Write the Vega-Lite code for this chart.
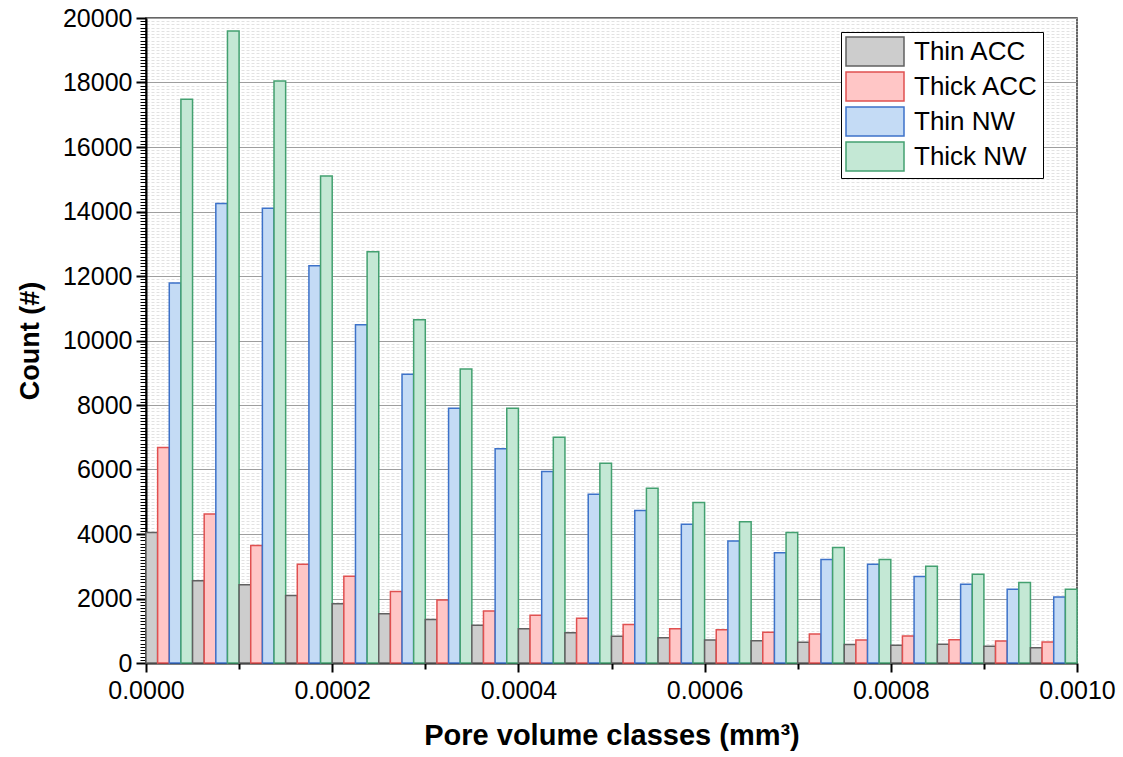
{
  "$schema": "https://vega.github.io/schema/vega-lite/v6.json",
  "width": 931,
  "height": 645,
  "autosize": {"type": "none"},
  "padding": {"left": 146, "top": 18, "right": 46, "bottom": 94},
  "background": "white",
  "config": {
    "view": {"stroke": "#333333", "strokeWidth": 1.5},
    "font": "Liberation Sans",
    "scale": {"bandPaddingInner": 0, "bandPaddingOuter": 0, "barBandPaddingInner": 0}
  },
  "data": {
    "values": [
      {"volume": 0.0, "series": "Thin ACC", "count": 4050},
      {"volume": 0.0, "series": "Thick ACC", "count": 6680},
      {"volume": 0.0, "series": "Thin NW", "count": 11780},
      {"volume": 0.0, "series": "Thick NW", "count": 17480},
      {"volume": 0.00005, "series": "Thin ACC", "count": 2550},
      {"volume": 0.00005, "series": "Thick ACC", "count": 4620},
      {"volume": 0.00005, "series": "Thin NW", "count": 14250},
      {"volume": 0.00005, "series": "Thick NW", "count": 19600},
      {"volume": 0.0001, "series": "Thin ACC", "count": 2430},
      {"volume": 0.0001, "series": "Thick ACC", "count": 3640},
      {"volume": 0.0001, "series": "Thin NW", "count": 14100},
      {"volume": 0.0001, "series": "Thick NW", "count": 18050},
      {"volume": 0.00015, "series": "Thin ACC", "count": 2090},
      {"volume": 0.00015, "series": "Thick ACC", "count": 3060},
      {"volume": 0.00015, "series": "Thin NW", "count": 12320},
      {"volume": 0.00015, "series": "Thick NW", "count": 15100},
      {"volume": 0.0002, "series": "Thin ACC", "count": 1840},
      {"volume": 0.0002, "series": "Thick ACC", "count": 2690},
      {"volume": 0.0002, "series": "Thin NW", "count": 10490},
      {"volume": 0.0002, "series": "Thick NW", "count": 12750},
      {"volume": 0.00025, "series": "Thin ACC", "count": 1530},
      {"volume": 0.00025, "series": "Thick ACC", "count": 2220},
      {"volume": 0.00025, "series": "Thin NW", "count": 8950},
      {"volume": 0.00025, "series": "Thick NW", "count": 10640},
      {"volume": 0.0003, "series": "Thin ACC", "count": 1350},
      {"volume": 0.0003, "series": "Thick ACC", "count": 1950},
      {"volume": 0.0003, "series": "Thin NW", "count": 7900},
      {"volume": 0.0003, "series": "Thick NW", "count": 9120},
      {"volume": 0.00035, "series": "Thin ACC", "count": 1170},
      {"volume": 0.00035, "series": "Thick ACC", "count": 1610},
      {"volume": 0.00035, "series": "Thin NW", "count": 6640},
      {"volume": 0.00035, "series": "Thick NW", "count": 7900},
      {"volume": 0.0004, "series": "Thin ACC", "count": 1060},
      {"volume": 0.0004, "series": "Thick ACC", "count": 1480},
      {"volume": 0.0004, "series": "Thin NW", "count": 5940},
      {"volume": 0.0004, "series": "Thick NW", "count": 7000},
      {"volume": 0.00045, "series": "Thin ACC", "count": 940},
      {"volume": 0.00045, "series": "Thick ACC", "count": 1390},
      {"volume": 0.00045, "series": "Thin NW", "count": 5230},
      {"volume": 0.00045, "series": "Thick NW", "count": 6190},
      {"volume": 0.0005, "series": "Thin ACC", "count": 830},
      {"volume": 0.0005, "series": "Thick ACC", "count": 1190},
      {"volume": 0.0005, "series": "Thin NW", "count": 4730},
      {"volume": 0.0005, "series": "Thick NW", "count": 5420},
      {"volume": 0.00055, "series": "Thin ACC", "count": 780},
      {"volume": 0.00055, "series": "Thick ACC", "count": 1060},
      {"volume": 0.00055, "series": "Thin NW", "count": 4300},
      {"volume": 0.00055, "series": "Thick NW", "count": 4980},
      {"volume": 0.0006, "series": "Thin ACC", "count": 710},
      {"volume": 0.0006, "series": "Thick ACC", "count": 1030},
      {"volume": 0.0006, "series": "Thin NW", "count": 3780},
      {"volume": 0.0006, "series": "Thick NW", "count": 4380},
      {"volume": 0.00065, "series": "Thin ACC", "count": 690},
      {"volume": 0.00065, "series": "Thick ACC", "count": 950},
      {"volume": 0.00065, "series": "Thin NW", "count": 3420},
      {"volume": 0.00065, "series": "Thick NW", "count": 4050},
      {"volume": 0.0007, "series": "Thin ACC", "count": 640},
      {"volume": 0.0007, "series": "Thick ACC", "count": 900},
      {"volume": 0.0007, "series": "Thin NW", "count": 3210},
      {"volume": 0.0007, "series": "Thick NW", "count": 3580},
      {"volume": 0.00075, "series": "Thin ACC", "count": 570},
      {"volume": 0.00075, "series": "Thick ACC", "count": 710},
      {"volume": 0.00075, "series": "Thin NW", "count": 3060},
      {"volume": 0.00075, "series": "Thick NW", "count": 3210},
      {"volume": 0.0008, "series": "Thin ACC", "count": 550},
      {"volume": 0.0008, "series": "Thick ACC", "count": 840},
      {"volume": 0.0008, "series": "Thin NW", "count": 2680},
      {"volume": 0.0008, "series": "Thick NW", "count": 3000},
      {"volume": 0.00085, "series": "Thin ACC", "count": 580},
      {"volume": 0.00085, "series": "Thick ACC", "count": 720},
      {"volume": 0.00085, "series": "Thin NW", "count": 2440},
      {"volume": 0.00085, "series": "Thick NW", "count": 2750},
      {"volume": 0.0009, "series": "Thin ACC", "count": 520},
      {"volume": 0.0009, "series": "Thick ACC", "count": 680},
      {"volume": 0.0009, "series": "Thin NW", "count": 2290},
      {"volume": 0.0009, "series": "Thick NW", "count": 2500},
      {"volume": 0.00095, "series": "Thin ACC", "count": 470},
      {"volume": 0.00095, "series": "Thick ACC", "count": 650},
      {"volume": 0.00095, "series": "Thin NW", "count": 2050},
      {"volume": 0.00095, "series": "Thick NW", "count": 2290}
    ]
  },
  "layer": [
    {
      "mark": {"type": "bar", "strokeWidth": 1.5},
      "encoding": {
        "x": {"field": "volume", "type": "ordinal", "axis": null, "scale": {"paddingInner": 0, "paddingOuter": 0}},
        "xOffset": {"field": "series", "type": "nominal", "sort": ["Thin ACC", "Thick ACC", "Thin NW", "Thick NW"], "scale": {"paddingInner": 0, "paddingOuter": 0}},
        "y": {
          "field": "count", "type": "quantitative",
          "scale": {"domain": [0, 20000], "nice": false},
          "axis": {
            "title": "Count (#)",
            "tickCount": 200,
            "format": "d",
            "labelExpr": "datum.value % 2000 === 0 ? datum.label : ''",
            "labelOverlap": false,
            "labelFlush": false,
            "labelFont": "Liberation Sans",
            "labelFontSize": 25,
            "labelColor": "black",
            "labelPadding": 4,
            "tickSize": {"condition": {"test": "datum.value % 2000 === 0", "value": 10}, "value": 6},
            "tickColor": "black",
            "tickWidth": {"condition": {"test": "datum.value % 2000 === 0", "value": 2}, "value": 1},
            "grid": true,
            "gridColor": {"condition": {"test": "datum.value % 2000 === 0", "value": "#9e9e9e"}, "value": "#e2e2e2"},
            "gridDash": {"condition": {"test": "datum.value % 2000 === 0", "value": []}, "value": [3, 2]},
            "gridWidth": 1,
            "domainColor": "black",
            "domainWidth": 2,
            "titleFont": "Liberation Sans",
            "titleFontSize": 27,
            "titleFontWeight": "bold",
            "titleColor": "black",
            "titlePadding": 18
          }
        },
        "fill": {
          "field": "series", "type": "nominal",
          "sort": ["Thin ACC", "Thick ACC", "Thin NW", "Thick NW"],
          "scale": {"domain": ["Thin ACC", "Thick ACC", "Thin NW", "Thick NW"], "range": ["#cdcdcd", "#ffc6c6", "#c4dbf5", "#c4e8d5"]},
          "legend": {
            "title": null,
            "orient": "none",
            "legendX": 695,
            "legendY": 14,
            "symbolType": "M-1,-1H3V1H-1Z",
            "symbolSize": 841,
            "symbolStrokeWidth": 1.5,
            "labelFont": "Liberation Sans",
            "labelFontSize": 26,
            "labelColor": "black",
            "labelOffset": 38,
            "rowPadding": 0,
            "padding": 4,
            "strokeColor": "black",
            "fillColor": "white",
            "labelLimit": 300
          }
        },
        "stroke": {
          "field": "series", "type": "nominal",
          "sort": ["Thin ACC", "Thick ACC", "Thin NW", "Thick NW"],
          "scale": {"domain": ["Thin ACC", "Thick ACC", "Thin NW", "Thick NW"], "range": ["#606060", "#e05050", "#3d72c9", "#43a070"]}
        }
      }
    },
    {
      "mark": {"type": "rule", "opacity": 0},
      "encoding": {
        "x": {
          "field": "volume", "type": "quantitative",
          "scale": {"domain": [0, 0.001], "nice": false, "zero": false},
          "axis": {
            "orient": "bottom",
            "title": "Pore volume classes (mm³)",
            "tickCount": 10,
            "labelExpr": "round(datum.value * 10000) % 2 === 0 ? format(datum.value, '.4f') : ''",
            "labelOverlap": false,
            "labelFlush": false,
            "labelFont": "Liberation Sans",
            "labelFontSize": 25,
            "labelColor": "black",
            "labelPadding": 6,
            "tickSize": {"condition": {"test": "round(datum.value * 10000) % 2 === 0", "value": 9}, "value": 6},
            "tickColor": "black",
            "tickWidth": 2,
            "grid": false,
            "domainColor": "black",
            "domainWidth": 2,
            "titleFont": "Liberation Sans",
            "titleFontSize": 29,
            "titleFontWeight": "bold",
            "titleColor": "black",
            "titlePadding": 18
          }
        }
      }
    }
  ],
  "resolve": {"scale": {"x": "independent"}}
}
